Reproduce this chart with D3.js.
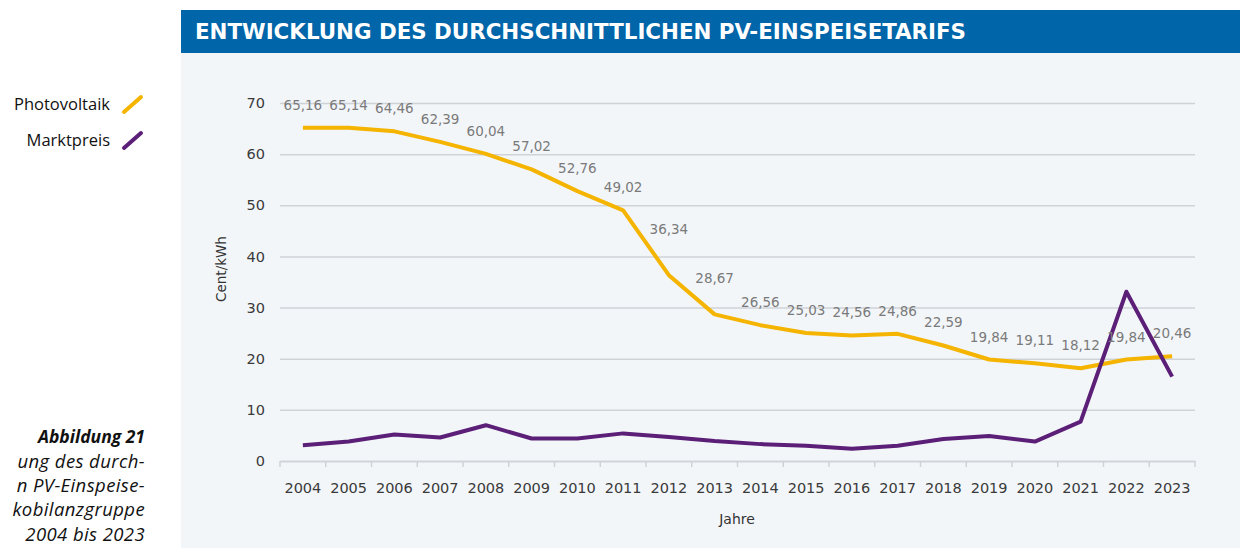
<!DOCTYPE html>
<html>
<head>
<meta charset="utf-8">
<script src="https://cdn.jsdelivr.net/npm/d3@7"></script>
<style>
  body { margin: 0; background: #fff; overflow: hidden; }
  svg { display: block; }
</style>
</head>
<body>
<div id="chart"></div>
<script>
// Data
const years = ['2004','2005','2006','2007','2008','2009','2010','2011','2012','2013',
  '2014','2015','2016','2017','2018','2019','2020','2021','2022','2023'];
const photovoltaik = [65.16, 65.14, 64.46, 62.39, 60.04, 57.02, 52.76, 49.02, 36.34, 28.67,
  26.56, 25.03, 24.56, 24.86, 22.59, 19.84, 19.11, 18.12, 19.84, 20.46];
const marktpreis = [3.1, 3.8, 5.2, 4.6, 7.0, 4.4, 4.4, 5.4, 4.7, 3.9,
  3.3, 3.0, 2.4, 3.0, 4.3, 4.9, 3.8, 7.7, 33.1, 16.5];
const yTicks = [0, 10, 20, 30, 40, 50, 60, 70];
const seriesNames = ['Photovoltaik', 'Marktpreis'];
const title = 'ENTWICKLUNG DES DURCHSCHNITTLICHEN PV-EINSPEISETARIFS';
const captionTitle = 'Abbildung 21';
// only the visible part of the side caption (the page cuts it off at the left)
const captionLines = ['ung des durch-', 'n PV-Einspeise-', 'kobilanzgruppe', '2004 bis 2023'];

const colors = { pv: '#f4b400', mp: '#5b1f78', head: '#0065a9', panel: '#f3f6f9', grid: '#cfd3d8' };
const font = '"DejaVu Sans", "Open Sans", sans-serif';

const W = 1243, H = 548;
const svg = d3.select('#chart').append('svg').attr('width', W).attr('height', H);

// Panel + header
svg.append('rect').attr('x', 181).attr('y', 10).attr('width', 1059).attr('height', H - 10).attr('fill', colors.panel);
svg.append('rect').attr('x', 181).attr('y', 10).attr('width', 1059).attr('height', 43).attr('fill', colors.head);
svg.append('text')
  .attr('x', 195).attr('y', 38.5)
  .attr('textLength', 771).attr('lengthAdjust', 'spacingAndGlyphs')
  .style('font-family', '"DejaVu Sans Condensed", "Liberation Sans Narrow", sans-serif')
  .style('font-stretch', 'condensed')
  .style('font-weight', 'bold').style('font-size', '21px').attr('fill', '#fff')
  .text(title);

// Scales
const plot = { left: 280, right: 1195, top: 103, bottom: 461 };
const x = d3.scaleBand().domain(years).range([plot.left, plot.right]);
const y = d3.scaleLinear().domain([0, 70]).range([plot.bottom, plot.top]);
const cx = d => x(d) + x.bandwidth() / 2;

// Grid + y axis
const yAxis = d3.axisLeft(y).tickValues(yTicks).tickSize(-(plot.right - plot.left)).tickPadding(15);
const gy = svg.append('g').attr('transform', `translate(${plot.left},0)`).call(yAxis);
gy.select('.domain').remove();
gy.selectAll('.tick line').attr('stroke', colors.grid).attr('stroke-width', 1.5);
gy.selectAll('.tick text').style('font-family', font).style('font-size', '14.5px').attr('fill', '#3a3a3a');

// x axis
const xAxis = d3.axisBottom(x).tickSize(0).tickPadding(22);
const gx = svg.append('g').attr('transform', `translate(0,${plot.bottom})`).call(xAxis);
gx.select('.domain').attr('stroke', colors.grid).attr('stroke-width', 1.5);
gx.selectAll('.tick text').style('font-family', font).style('font-size', '14.5px').attr('fill', '#3a3a3a');
gx.selectAll('.sep')
  .data(years.concat(['end']))
  .enter().append('line')
  .attr('x1', (d, i) => plot.left + i * x.step()).attr('x2', (d, i) => plot.left + i * x.step())
  .attr('y1', 0).attr('y2', 6)
  .attr('stroke', colors.grid).attr('stroke-width', 1.5);

// Axis titles
svg.append('text')
  .attr('transform', `translate(226,${(plot.top + plot.bottom) / 2 - 13}) rotate(-90)`)
  .attr('text-anchor', 'middle')
  .style('font-family', font).style('font-size', '13.5px').attr('fill', '#333')
  .text('Cent/kWh');
svg.append('text')
  .attr('x', 737).attr('y', 524).attr('text-anchor', 'middle')
  .style('font-family', font).style('font-size', '14px').attr('fill', '#333')
  .text('Jahre');

// Lines
const line = d3.line().x((d, i) => cx(years[i])).y(d => y(d));
svg.append('path').datum(photovoltaik).attr('d', line)
  .attr('fill', 'none').attr('stroke', colors.pv).attr('stroke-width', 4).attr('stroke-linejoin', 'round');
svg.append('path').datum(marktpreis).attr('d', line)
  .attr('fill', 'none').attr('stroke', colors.mp).attr('stroke-width', 4).attr('stroke-linejoin', 'round');

// Value labels (pushed higher where the line drops steeply)
const fmt = d3.format('.2f');
svg.append('g').selectAll('text')
  .data(photovoltaik)
  .enter().append('text')
  .attr('x', (d, i) => cx(years[i]))
  .attr('y', (d, i) => {
    const drop = i > 0 ? photovoltaik[i - 1] - d : 0;
    return y(d) - 18 - (drop > 5 ? drop * 1.8 : 0);
  })
  .attr('text-anchor', 'middle')
  .style('font-family', font).style('font-size', '13.5px').attr('fill', '#7a7a7a')
  .text(d => fmt(d).replace('.', ','));

// Legend
const legend = svg.append('g');
seriesNames.forEach((name, i) => {
  const ly = 104 + i * 36;
  legend.append('text').attr('x', 110).attr('y', ly + 6).attr('text-anchor', 'end')
    .style('font-family', '"Open Sans", sans-serif').style('font-size', '16.5px')
    .style('font-weight', 500).attr('fill', '#111')
    .text(name);
  legend.append('line').attr('x1', 124).attr('y1', ly + 8).attr('x2', 141).attr('y2', ly - 7)
    .attr('stroke', i === 0 ? colors.pv : colors.mp).attr('stroke-width', 4).attr('stroke-linecap', 'round');
});

// Side caption
svg.append('text').attr('x', 145).attr('y', 443).attr('text-anchor', 'end')
  .style('font-family', '"Open Sans", sans-serif').style('font-size', '17.5px')
  .style('font-weight', 'bold').style('font-style', 'italic').attr('fill', '#111')
  .text(captionTitle);
svg.append('g').selectAll('text')
  .data(captionLines)
  .enter().append('text')
  .attr('x', 145).attr('y', (d, i) => 468 + i * 24.2).attr('text-anchor', 'end')
  .style('font-family', '"Open Sans", sans-serif').style('font-size', '18.5px')
  .style('letter-spacing', '0.4px')
  .style('font-style', 'italic').attr('fill', '#111')
  .text(d => d);
</script>
</body>
</html>
